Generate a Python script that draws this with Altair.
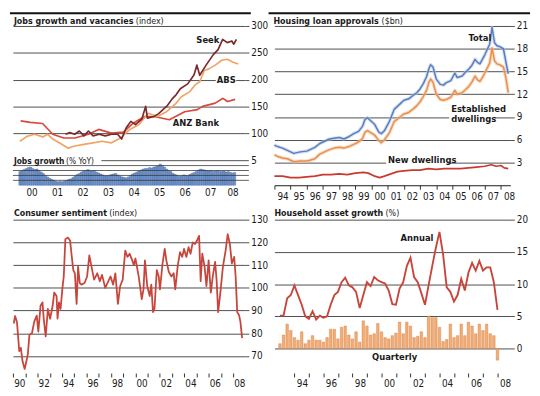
import altair as alt
import pandas as pd

# ---------------- data ----------------
# Jobs growth and vacancies (index)
seek_year = [2001.83, 2002.0, 2002.19, 2002.37, 2002.55, 2002.73, 2002.91, 2003.15, 2003.39, 2003.63,
             2003.87, 2004.03, 2004.21, 2004.39, 2004.57, 2004.82, 2004.97, 2005.04, 2005.29, 2005.47,
             2005.65, 2005.83, 2006.01, 2006.17, 2006.33, 2006.62, 2006.87, 2006.98, 2007.09, 2007.34,
             2007.63, 2007.81, 2007.99, 2008.17, 2008.35, 2008.42, 2008.53]
seek_value = [98, 101, 98, 104, 95, 104, 95, 98, 95, 98,
              98, 89, 110, 122, 116, 126, 150, 128, 131, 136,
              144, 152, 164, 172, 183, 192, 209, 227, 208, 227,
              247, 256, 275, 269, 272, 266, 275]
abs_year = [2000.04, 2000.32, 2000.61, 2000.94, 2001.12, 2001.33, 2001.58, 2001.94, 2002.19, 2002.55,
            2002.91, 2003.27, 2003.63, 2003.99, 2004.35, 2004.71, 2005.07, 2005.43, 2005.79, 2006.15,
            2006.37, 2006.69, 2006.91, 2007.09, 2007.27, 2007.45, 2007.7, 2007.95, 2008.17, 2008.42, 2008.6]
abs_value = [85, 94, 98, 93, 98, 89, 82, 72, 76, 79,
             82, 85, 82, 91, 107, 116, 137, 131, 140, 155,
             168, 177, 190, 196, 217, 220, 227, 236, 238, 232, 229]
anz_year = [2000.07, 2000.45, 2000.93, 2001.33, 2001.76, 2002.2, 2002.73, 2003.13, 2003.63, 2004.1,
            2004.46, 2004.93, 2005.3, 2005.9, 2006.5, 2007.0, 2007.2, 2007.7, 2008.0, 2008.18, 2008.48]
anz_value = [123, 120, 118, 98, 91, 91, 98, 107, 100, 102,
             118, 131, 131, 125, 140, 144, 150, 156, 165, 159, 163]
# Jobs growth (% YoY), monthly from Jan 2000
jobs_start = 2000
jobs_growth = [2.8, 3.0, 3.2, 3.4, 3.6, 3.7, 3.4, 3.2, 3.3, 3.0, 2.7, 2.4,
               2.0, 1.7, 1.4, 1.2, 1.0, 0.8, 0.7, 0.8, 0.7, 0.9, 1.0, 1.2,
               1.3, 1.6, 1.9, 2.2, 2.4, 2.7, 2.9, 3.0, 3.2, 3.0, 2.9, 3.0,
               2.7, 2.5, 2.3, 2.1, 1.9, 1.9, 2.0, 2.2, 2.3, 2.4, 2.1, 1.9,
               1.7, 1.6, 1.5, 1.7, 2.0, 2.3, 2.5, 2.7, 2.9, 3.1, 3.3, 3.4,
               3.4, 3.6, 3.5, 3.7, 3.8, 4.0, 4.3, 4.0, 3.7, 3.3, 3.0, 2.8,
               2.4, 2.2, 2.0, 1.8, 1.9, 2.1, 2.0, 1.9, 2.2, 2.4, 2.6, 2.8,
               3.1, 3.3, 3.2, 3.1, 3.0, 2.9, 3.0, 2.8, 2.9, 3.0, 2.8, 2.8,
               2.9, 2.7, 2.8, 2.6, 2.5, 2.6]

# Housing loan approvals ($bn)
loan_year = [1994.0, 1994.2, 1994.5, 1994.8, 1995.2, 1995.6, 1996.0, 1996.2, 1996.5, 1996.8,
             1997.1, 1997.4, 1997.7, 1998.0, 1998.3, 1998.6, 1998.9, 1999.2, 1999.45, 1999.6,
             1999.75, 1999.9, 2000.2, 2000.45, 2000.6, 2000.8, 2001.1, 2001.4, 2001.7, 2002.0,
             2002.3, 2002.6, 2002.8, 2003.0, 2003.2, 2003.4, 2003.55, 2003.65, 2003.8, 2004.0,
             2004.25, 2004.45, 2004.6, 2004.9, 2005.15, 2005.3, 2005.6, 2005.8, 2006.0, 2006.2,
             2006.4, 2006.55, 2006.7, 2006.85, 2007.0, 2007.3, 2007.45, 2007.6, 2007.75, 2007.9,
             2008.15, 2008.3, 2008.45]
total_value = [5.3, 5.1, 4.9, 4.6, 4.2, 4.4, 4.5, 4.7, 5.0, 5.5,
               5.8, 6.1, 6.2, 6.3, 6.1, 6.4, 6.8, 7.1, 7.8, 8.7,
               8.9, 8.6, 8.0, 7.0, 6.8, 7.2, 8.4, 10.0, 10.6, 11.2,
               11.4, 11.9, 12.2, 12.7, 13.4, 14.3, 15.4, 15.9, 15.6, 14.0,
               13.3, 13.2, 13.5, 13.8, 14.8, 14.2, 14.4, 14.9, 15.3, 15.8,
               16.6, 16.2, 16.0, 16.6, 17.2, 18.6, 20.8, 18.8, 18.4, 18.3,
               18.0, 16.3, 14.7]
established_value = [4.0, 3.8, 3.6, 3.5, 3.1, 3.2, 3.2, 3.3, 3.5, 4.1,
                     4.4, 4.7, 4.9, 5.0, 4.9, 5.1, 5.4, 5.7, 6.2, 7.0,
                     7.2, 7.0, 6.6, 5.9, 5.6, 6.0, 6.9, 8.4, 8.9, 9.4,
                     9.6, 10.1, 10.5, 11.0, 11.7, 12.5, 13.6, 14.0, 13.6, 12.0,
                     11.3, 11.2, 11.3, 11.6, 12.5, 12.0, 12.2, 12.6, 13.0, 13.6,
                     14.4, 13.9, 13.7, 14.2, 14.8, 16.1, 18.1, 16.4, 16.0, 15.9,
                     15.6, 14.2, 12.2]
new_year = [1994.0, 1994.5, 1995.0, 1995.5, 1996.0, 1996.5, 1997.0, 1997.5, 1998.0, 1998.5,
            1999.0, 1999.5, 1999.8, 2000.2, 2000.5, 2000.8, 2001.2, 2001.6, 2002.0, 2002.5,
            2003.0, 2003.5, 2004.0, 2004.5, 2005.0, 2005.5, 2006.0, 2006.5, 2007.0, 2007.4,
            2007.7, 2008.0, 2008.2, 2008.45]
new_value = [1.2, 1.2, 1.0, 1.0, 1.1, 1.2, 1.4, 1.4, 1.5, 1.4,
             1.6, 1.7, 1.6, 1.2, 1.0, 1.2, 1.5, 1.8, 1.9, 2.0,
             2.0, 2.2, 2.1, 2.2, 2.2, 2.2, 2.3, 2.4, 2.5, 2.7,
             2.5, 2.6, 2.3, 2.2]

# Consumer sentiment (index)
sent_year = [1990.05, 1990.16, 1990.31, 1990.5, 1990.63, 1990.76, 1990.94, 1991.09, 1991.2, 1991.33,
             1991.54, 1991.72, 1991.93, 1992.06, 1992.24, 1992.4, 1992.5, 1992.66, 1992.84, 1993.02,
             1993.23, 1993.36, 1993.55, 1993.63, 1993.75, 1993.88, 1994.02, 1994.14, 1994.27, 1994.48,
             1994.66, 1994.8, 1994.92, 1995.05, 1995.19, 1995.31, 1995.45, 1995.58, 1995.84, 1996.05,
             1996.23, 1996.41, 1996.62, 1996.88, 1997.09, 1997.27, 1997.53, 1997.79, 1997.97, 1998.18,
             1998.36, 1998.57, 1998.75, 1998.96, 1999.17, 1999.35, 1999.53, 1999.74, 1999.88, 2000.0,
             2000.27, 2000.52, 2000.66, 2000.78, 2000.97, 2001.17, 2001.3, 2001.44, 2001.56, 2001.75,
             2001.91, 2002.01, 2002.22, 2002.4, 2002.53, 2002.73, 2002.95, 2003.13, 2003.26, 2003.47,
             2003.65, 2003.83, 2003.98, 2004.17, 2004.35, 2004.51, 2004.69, 2004.88, 2005.03, 2005.21,
             2005.34, 2005.47, 2005.66, 2005.81, 2005.99, 2006.17, 2006.33, 2006.52, 2006.64, 2006.77,
             2006.95, 2007.16, 2007.38, 2007.55, 2007.73, 2007.89, 2008.08, 2008.2, 2008.33, 2008.49,
             2008.59, 2008.73]
sent_value = [84.3, 87.6, 85.0, 72.1, 73.6, 67.9, 64.3, 67.9, 70.7, 79.3,
              80.0, 85.0, 87.8, 80.7, 92.1, 93.6, 86.4, 78.6, 90.7, 86.4,
              92.1, 97.9, 96.4, 86.4, 93.6, 90.7, 99.3, 105.0, 121.4, 122.1,
              120.7, 113.5, 107.8, 106.4, 92.9, 109.3, 102.1, 101.4, 102.1, 105.0,
              114.3, 109.3, 103.6, 106.4, 102.9, 105.7, 100.0, 102.9, 105.0, 101.4,
              106.4, 92.9, 100.7, 103.6, 116.4, 113.6, 115.0, 112.1, 110.0, 112.9,
              105.0, 95.0, 99.3, 112.1, 100.7, 96.4, 101.4, 89.3, 90.7, 107.8,
              105.0, 99.3, 110.7, 117.1, 112.1, 107.1, 105.0, 106.4, 99.3, 110.0,
              115.7, 113.6, 117.1, 113.6, 117.9, 115.0, 120.0, 119.3, 120.7, 122.9,
              102.9, 115.0, 109.3, 100.7, 112.1, 97.9, 105.0, 111.4, 103.6, 89.3,
              97.9, 109.3, 116.4, 123.6, 119.3, 110.7, 113.6, 105.0, 89.3, 87.8,
              85.0, 77.9]

# Household asset growth (%), quarterly from 1993 Q1
asset_start = 1993
asset_annual = [5.1, 5.1, 7.8, 8.3, 9.8, 8.3, 6.8, 5.0, 4.6, 5.8,
                4.5, 5.1, 4.8, 5.0, 6.8, 8.3, 8.8, 10.3, 11.0, 9.8,
                9.5, 8.8, 6.3, 8.3, 10.3, 9.7, 11.1, 10.6, 10.3, 10.1,
                9.0, 6.9, 6.8, 9.3, 10.3, 12.8, 14.1, 11.1, 10.3, 8.6,
                6.8, 9.8, 12.8, 15.6, 18.1, 14.6, 9.5, 8.8, 7.3, 8.3,
                10.8, 9.0, 11.8, 13.3, 12.1, 13.6, 12.1, 12.6, 12.6, 10.3,
                6.0]
asset_quarterly = [0.75, 2.1, 3.8, 2.8, 1.7, 1.3, 2.6, 0.75, 1.3, 2.0,
                   1.3, 1.3, 1.0, 1.7, 3.0, 3.0, 1.5, 3.3, 3.5, 2.1,
                   1.5, 2.6, 1.0, 4.3, 3.5, 2.1, 2.3, 3.9, 2.6, 1.7,
                   1.5, 2.0, 2.4, 4.1, 2.3, 4.1, 3.5, 1.7, 1.9, 2.6,
                   1.7, 5.0, 4.8, 4.8, 3.3, 1.1, 1.4, 3.8, 1.7, 2.0,
                   3.8, 2.0, 4.1, 3.5, 2.3, 3.8, 2.8, 3.8, 2.3, 2.0,
                   -1.8]

# ---------------- style ----------------
FONT = "DejaVu Sans Condensed, Liberation Sans, sans-serif"
GRID = "#3a3a3a"
INK = "#1a1a1a"
TS = 9          # panel title size
W1, W2 = 236, 240
H1, H2 = 162, 156
YR2 = "pad(toString(floor(datum.value) % 100), 2, '0', 'left')"
EVEN = "floor(datum.value) % 2 == 0 ? " + YR2 + " : ''"


def one():
    return pd.DataFrame({"k": [0]})


def ptext(txt, x, y, bold=True, size=TS):
    return alt.Chart(one()).mark_text(
        align="left", baseline="middle", font=FONT, fontSize=size,
        fontWeight="bold" if bold else "normal", color=INK
    ).encode(x=alt.value(x), y=alt.value(y), text=alt.value(txt))


def top_rule(x0, x1, y):
    return alt.Chart(one()).mark_rule(color="#111", strokeWidth=2.2).encode(
        x=alt.value(x0), x2=alt.value(x1), y=alt.value(y))


def yaxis(values, grid=True, ticks=True, pad=2):
    return alt.Axis(orient="right", values=values, grid=grid, gridColor=GRID, gridWidth=0.9,
                    domain=False, ticks=ticks, tickSize=4, tickColor=GRID, tickWidth=0.9,
                    labelPadding=pad, labelFont=FONT, labelFontSize=10, labelColor=INK,
                    labelOverlap=False, title=None)


def xaxis(values, offset, expr, ticks=True, domain=False):
    return alt.Axis(values=values, labelExpr=expr, labelOffset=offset, grid=False,
                    ticks=ticks, tickSize=4, tickColor=INK, tickWidth=0.9,
                    domain=domain, domainColor=INK, domainWidth=1,
                    labelPadding=2, labelFont=FONT, labelFontSize=10, labelColor=INK,
                    labelFlush=False, labelOverlap=False, title=None)


def line(years, values, color, xs, ys, xax, yax, width=1.7, opacity=1.0):
    df = pd.DataFrame({"yr": years, "v": values})
    return alt.Chart(df).mark_line(color=color, strokeWidth=width, strokeJoin="round",
                                   opacity=opacity).encode(
        x=alt.X("yr:Q", scale=xs, axis=xax), y=alt.Y("v:Q", scale=ys, axis=yax))


def label(xv, yv, txt, xs, ys, xax, yax, align="center"):
    df = pd.DataFrame({"x": [xv], "y": [yv], "t": [txt]})
    return alt.Chart(df).mark_text(
        align=align, baseline="middle", font=FONT, fontSize=9.5, fontWeight="bold", color=INK
    ).encode(x=alt.X("x:Q", scale=xs, axis=xax), y=alt.Y("y:Q", scale=ys, axis=yax), text="t:N")


def blank(x0, x1, y0, y1, xs, ys, xax, yax):
    df = pd.DataFrame({"x0": [x0], "x1": [x1], "y0": [y0], "y1": [y1]})
    return alt.Chart(df).mark_rect(color="white").encode(
        x=alt.X("x0:Q", scale=xs, axis=xax), x2="x1:Q",
        y=alt.Y("y0:Q", scale=ys, axis=yax), y2="y1:Q")


# ---------------- panel A: jobs ----------------
xA = alt.Scale(domain=[1999.96, 2008.67], nice=False, zero=False)
yA = alt.Scale(domain=[67, 300], range=[127, 0], nice=False, zero=False)
yAs = alt.Scale(domain=[0, 5], range=[162, 137], nice=False, zero=False)
axA = xaxis([2000.5 + i for i in range(8)] + [2008.38], 0, YR2, ticks=False)
ayA = yaxis([100, 150, 200, 250, 300])
ayAs = yaxis([5], grid=False, ticks=False, pad=6)

mainA = alt.layer(
    top_rule(-3, W1 + 6, -13),
    ptext("Jobs growth and vacancies", 1, -5.5),
    ptext("(index)", 125, -5.5, bold=False),
    blank(2007.72, 2008.52, 197, 203, xA, yA, axA, ayA),
    line(anz_year, anz_value, "#d9483a", xA, yA, axA, ayA),
    line(abs_year, abs_value, "#efa466", xA, yA, axA, ayA),
    line(seek_year, seek_value, "#7a2a2c", xA, yA, axA, ayA),
    label(2007.41, 274.6, "Seek", xA, yA, axA, ayA),
    label(2008.13, 200, "ABS", xA, yA, axA, ayA),
    label(2006.94, 118, "ANZ Bank", xA, yA, axA, ayA),
)

jobs_df = pd.DataFrame({
    "yr": [jobs_start + (i + 0.5) / 12 for i in range(len(jobs_growth))],
    "v": jobs_growth,
})
grid_df = pd.DataFrame({"g": [1, 2, 3, 4]})
top_df = pd.DataFrame({"g": [5]})
subA = alt.layer(
    alt.Chart(jobs_df).mark_bar(size=2.3, color="#7196cf", stroke="#3f5f98", strokeWidth=0.35).encode(
        x=alt.X("yr:Q", scale=xA, axis=axA),
        y=alt.Y("v:Q", scale=yAs, axis=ayAs),
        y2=alt.datum(0)),
    alt.Chart(grid_df).mark_rule(color=GRID, strokeWidth=0.8).encode(
        x=alt.value(0), x2=alt.value(W1 + 4), y=alt.Y("g:Q", scale=yAs, axis=ayAs)),
    alt.Chart(top_df).mark_rule(color=GRID, strokeWidth=0.9).encode(
        x=alt.value(90), x2=alt.value(W1 + 4), y=alt.Y("g:Q", scale=yAs, axis=ayAs)),
    ptext("Jobs growth", 1, 137, size=8.5),
    ptext("(% YoY)", 54, 137, bold=False, size=8.5),
)

panelA = alt.layer(mainA, subA).resolve_scale(y="independent").resolve_axis(y="independent").properties(
    width=W1, height=H1)

# ---------------- panel B: housing loans ----------------
xB = alt.Scale(domain=[1994.0, 2008.58], nice=False, zero=False)
yB = alt.Scale(domain=[0, 21], nice=False, zero=False)
offB = W2 / 14.58 / 2
axB = xaxis(list(range(1994, 2009)), offB, YR2, ticks=True, domain=True)
ayB = yaxis([3, 6, 9, 12, 15, 18, 21])
panelB = alt.layer(
    top_rule(-6, W2 + 20, -13),
    ptext("Housing loan approvals", -1, -5.5),
    ptext("($bn)", 109, -5.5, bold=False),
    blank(2004.8, 2007.6, 8.75, 9.25, xB, yB, axB, ayB),
    blank(2000.9, 2004.7, 2.8, 3.2, xB, yB, axB, ayB),
    line(loan_year, established_value, "#f3c39c", xB, yB, axB, ayB, width=3.6, opacity=0.6),
    line(loan_year, total_value, "#b9c9e6", xB, yB, axB, ayB, width=3.6, opacity=0.6),
    line(new_year, new_value, "#c83a32", xB, yB, axB, ayB),
    line(loan_year, established_value, "#e8904f", xB, yB, axB, ayB, width=1.5),
    line(loan_year, total_value, "#5a7dbf", xB, yB, axB, ayB, width=1.5),
    label(2006.7, 19.45, "Total", xB, yB, axB, ayB),
    label(2004.92, 10.1, "Established", xB, yB, axB, ayB, align="left"),
    label(2004.92, 8.68, "dwellings", xB, yB, axB, ayB, align="left"),
    label(2001.02, 3.35, "New dwellings", xB, yB, axB, ayB, align="left"),
).properties(width=W2, height=H1)

# ---------------- panel C: consumer sentiment ----------------
xC = alt.Scale(domain=[1989.98, 2008.96], nice=False, zero=False)
yC = alt.Scale(domain=[62.5, 130], nice=False, zero=False)
offC = W1 / 18.98 / 2
axC = xaxis(list(range(1990, 2009)), offC, EVEN)
ayC = yaxis([70, 80, 90, 100, 110, 120, 130])
panelC = alt.layer(
    ptext("Consumer sentiment", 1, -7),
    ptext("(index)", 98, -7, bold=False),
    line(sent_year, sent_value, "#c8453c", xC, yC, axC, ayC, width=1.8),
).properties(width=W1, height=H2)

# ---------------- panel D: household assets ----------------
xD = alt.Scale(domain=[1992.96, 2008.55], nice=False, zero=False)
yD = alt.Scale(domain=[-3.8, 20], nice=False, zero=False)
offD = W2 / 15.59 / 2
axD = xaxis(list(range(1994, 2009)), offD, EVEN)
ayD = yaxis([0, 5, 10, 15, 20])
asset_df = pd.DataFrame({
    "yr": [asset_start + i / 4 for i in range(len(asset_annual))],
    "a": asset_annual,
    "q": asset_quarterly,
})
panelD = alt.layer(
    ptext("Household asset growth", 0, -7),
    ptext("(%)", 113, -7, bold=False),
    alt.Chart(asset_df).mark_bar(size=2.6, color="#f1ad74", stroke="#d7773c", strokeWidth=0.4).encode(
        x=alt.X("yr:Q", scale=xD, axis=axD),
        y=alt.Y("q:Q", scale=yD, axis=ayD),
        y2=alt.datum(0)),
    alt.Chart(asset_df).mark_line(color="#c8453c", strokeWidth=1.9).encode(
        x=alt.X("yr:Q", scale=xD, axis=axD), y=alt.Y("a:Q", scale=yD, axis=ayD)),
    label(2002.45, 17.1, "Annual", xD, yD, axD, ayD),
    label(2000.91, -1.36, "Quarterly", xD, yD, axD, ayD),
).properties(width=W2, height=H2)

chart = alt.concat(
    panelA, panelB, panelC, panelD, columns=2,
    spacing={"row": 35, "column": 30}, bounds="flush",
).properties(padding=0, background="white").configure_view(stroke=None).configure_axis(labelOverlap=False)

chart.save("out.html", embed_options={"renderer": "svg", "actions": False})
